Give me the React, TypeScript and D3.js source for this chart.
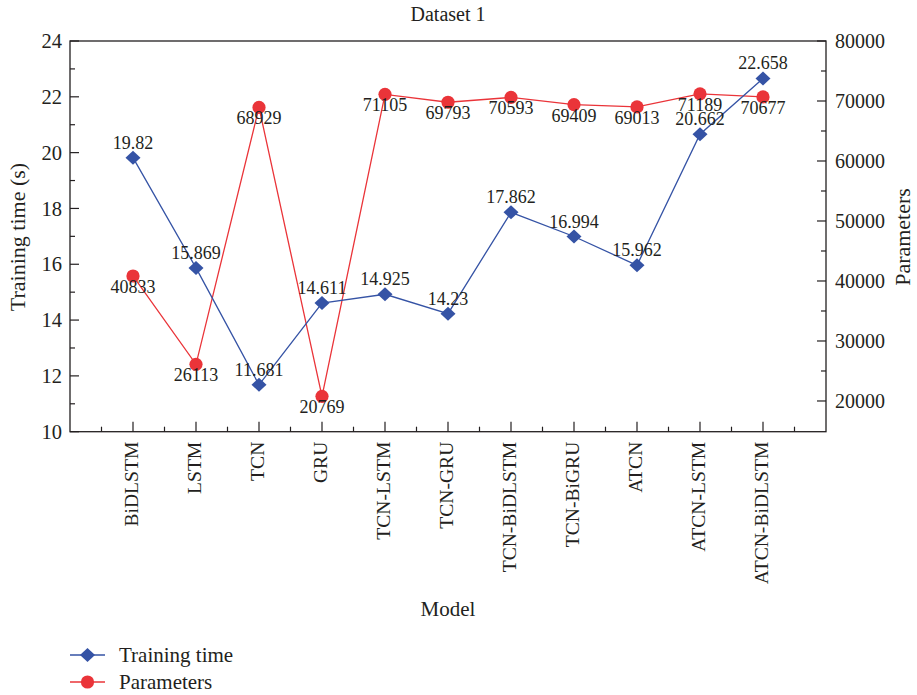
import React from "react";
import * as d3 from "d3";

const categories = ["BiDLSTM", "LSTM", "TCN", "GRU", "TCN-LSTM", "TCN-GRU", "TCN-BiDLSTM", "TCN-BiGRU", "ATCN", "ATCN-LSTM", "ATCN-BiDLSTM"];
const trainingTime = [19.82, 15.869, 11.681, 14.611, 14.925, 14.23, 17.862, 16.994, 15.962, 20.662, 22.658];
const trainingLabels = ["19.82", "15.869", "11.681", "14.611", "14.925", "14.23", "17.862", "16.994", "15.962", "20.662", "22.658"];
const parameters = [40833, 26113, 68929, 20769, 71105, 69793, 70593, 69409, 69013, 71189, 70677];
const leftTicks = [10, 12, 14, 16, 18, 20, 22, 24];
const rightTicks = [20000, 30000, 40000, 50000, 60000, 70000, 80000];

const W = 917, H = 695;
const L = 70, R = 826, T = 41, B = 431.7;
const BLUE = "#3553a5";
const RED = "#ea3439";
const FONT = "'Liberation Serif', 'Times New Roman', serif";
const TXT = "#231f20";

export default function App() {
  const x = d3.scaleLinear().domain([0, categories.length + 1]).range([L, R]);
  const yL = d3.scaleLinear().domain([10, 24]).range([B, T]);
  const yR = d3.scaleLinear().domain([14880, 80000]).range([B, T]);

  const lineT = d3.line<number>().x((_, i) => x(i + 1)).y((d) => yL(d));
  const lineP = d3.line<number>().x((_, i) => x(i + 1)).y((d) => yR(d));

  const leftMinor = d3.range(11, 24, 2);
  const rightMinor = d3.range(15000, 80000, 10000).filter((v) => yR(v) <= B - 1);
  const xMinor = d3.range(0.5, categories.length + 1, 1);

  const diamond = (cx: number, cy: number, sx: number, sy: number) =>
    `M${cx},${cy - sy}L${cx + sx},${cy}L${cx},${cy + sy}L${cx - sx},${cy}Z`;

  return (
    <svg width={W} height={H} style={{ display: "block", position: "absolute", left: 0, top: 0 }} fontFamily={FONT}>
      <rect width={W} height={H} fill="#fff" />
      <text x={448} y={21} textAnchor="middle" fontSize={20} fill={TXT}>Dataset 1</text>

      {/* frame */}
      <rect x={L} y={T} width={R - L} height={B - T} fill="none" stroke={TXT} strokeWidth={1.3} />

      {/* left axis ticks */}
      {leftTicks.map((v) => (
        <g key={"l" + v}>
          <line x1={L} x2={L + 9} y1={yL(v)} y2={yL(v)} stroke={TXT} strokeWidth={1.2} />
          <text x={L - 8} y={yL(v)} dy="0.35em" textAnchor="end" fontSize={20.5} fill={TXT}>{v}</text>
        </g>
      ))}
      {leftMinor.map((v) => (
        <line key={"lm" + v} x1={L} x2={L + 5} y1={yL(v)} y2={yL(v)} stroke={TXT} strokeWidth={1.2} />
      ))}

      {/* right axis ticks */}
      {rightTicks.map((v) => (
        <g key={"r" + v}>
          <line x1={R - 9} x2={R} y1={yR(v)} y2={yR(v)} stroke={TXT} strokeWidth={1.2} />
          <text x={R + 9} y={yR(v)} dy="0.35em" textAnchor="start" fontSize={20} fill={TXT}>{v}</text>
        </g>
      ))}
      {rightMinor.map((v) => (
        <line key={"rm" + v} x1={R - 5} x2={R} y1={yR(v)} y2={yR(v)} stroke={TXT} strokeWidth={1.2} />
      ))}

      {/* bottom axis ticks */}
      {categories.map((c, i) => (
        <g key={"x" + c}>
          <line x1={x(i + 1)} x2={x(i + 1)} y1={B} y2={B - 10} stroke={TXT} strokeWidth={1.2} />
          <text transform={`translate(${x(i + 1) + 5},${B + 10}) rotate(-90)`} textAnchor="end" fontSize={19.6} fill={TXT}>{c}</text>
        </g>
      ))}
      {xMinor.map((v) => (
        <line key={"xm" + v} x1={x(v)} x2={x(v)} y1={B} y2={B - 5} stroke={TXT} strokeWidth={1.2} />
      ))}

      {/* axis titles */}
      <text transform={`translate(25,237) rotate(-90)`} textAnchor="middle" fontSize={22} fill={TXT}>Training time (s)</text>
      <text transform={`translate(910,237) rotate(-90)`} textAnchor="middle" fontSize={22} fill={TXT}>Parameters</text>
      <text x={448} y={616} textAnchor="middle" fontSize={21} fill={TXT}>Model</text>

      {/* lines */}
      <path d={lineP(parameters) || ""} fill="none" stroke={RED} strokeWidth={1.3} />
      <path d={lineT(trainingTime) || ""} fill="none" stroke={BLUE} strokeWidth={1.3} />

      {parameters.map((v, i) => (
        <circle key={"pc" + i} cx={x(i + 1)} cy={yR(v)} r={6.6} fill={RED} />
      ))}
      {trainingTime.map((v, i) => (
        <path key={"td" + i} d={diamond(x(i + 1), yL(v), 7.5, 7)} fill={BLUE} />
      ))}

      {/* labels */}
      {parameters.map((v, i) => (
        <text key={"pl" + i} x={x(i + 1)} y={yR(v) + 17} textAnchor="middle" fontSize={18} fill={TXT}>{v}</text>
      ))}
      {trainingTime.map((v, i) => (
        <text key={"tl" + i} x={x(i + 1)} y={yL(v) - 9} textAnchor="middle" fontSize={18} fill={TXT}>{trainingLabels[i]}</text>
      ))}

      {/* legend */}
      <line x1={70} x2={105} y1={655} y2={655} stroke={BLUE} strokeWidth={1.3} />
      <path d={diamond(87.5, 655, 7.5, 7)} fill={BLUE} />
      <text x={119} y={655} dy="0.35em" fontSize={21} fill={TXT}>Training time</text>
      <line x1={70} x2={105} y1={682} y2={682} stroke={RED} strokeWidth={1.3} />
      <circle cx={87.5} cy={682} r={6.6} fill={RED} />
      <text x={119} y={682} dy="0.35em" fontSize={21} fill={TXT}>Parameters</text>
    </svg>
  );
}
